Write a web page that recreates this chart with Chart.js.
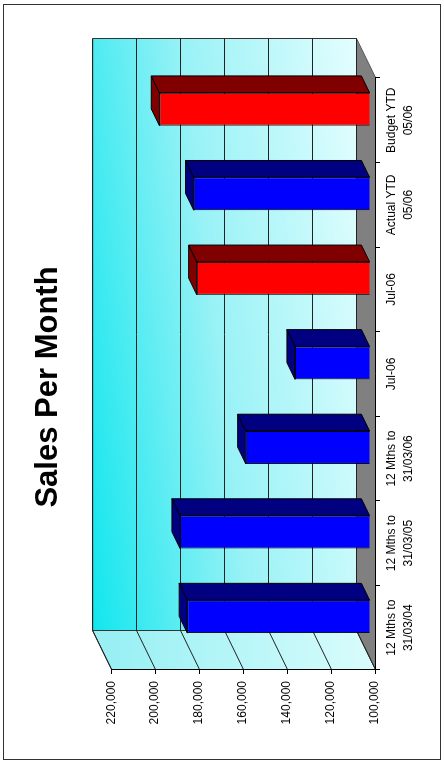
<!DOCTYPE html>
<html>
<head>
<meta charset="utf-8">
<script src="https://cdn.jsdelivr.net/npm/chart.js@4.4.0/dist/chart.umd.min.js"></script>
<style>
  html, body { margin: 0; padding: 0; background: #fff; }
  body { width: 444px; height: 764px; position: relative; overflow: hidden; }
  /* the chart is drawn upright and the whole box turned a quarter left */
  #wrap { position: absolute; left: -160px; top: 160px; width: 764px; height: 444px;
          transform: rotate(-90deg); transform-origin: 50% 50%; }
  #wrap canvas { display: block; }
  #frame { position: absolute; left: 3px; top: 4px; width: 436px; height: 754px;
           border: 1px solid #333; pointer-events: none; }
</style>
</head>
<body>
<div id="wrap"><canvas id="chart01" width="764" height="444"></canvas></div>
<div id="frame"></div>
<script>
var categories = [
  ['12 Mths to', '31/03/04'],
  ['12 Mths to', '31/03/05'],
  ['12 Mths to', '31/03/06'],
  'Jul-06',
  'Jul-06',
  ['Actual YTD', '05/06'],
  ['Budget YTD', '05/06']
];
var salesValues = [182900, 186200, 156300, 133900, 178600, 180000, 195600];
var seriesType  = ['Actual', 'Actual', 'Actual', 'Actual', 'Budget', 'Actual', 'Budget'];
var yTicks = { min: 100000, max: 220000, step: 20000 };

// colours of the two kinds of bar (front / top+side)
var faceColor = { Actual: '#0000ff', Budget: '#ff0000' };
var darkColor = { Actual: '#000080', Budget: '#800000' };

var SANS = "'Liberation Sans', Arial, sans-serif";

// 3D look: depth of the floor and where the bars sit in it
var DX = 39, DY = -19;
var BAR_FRONT = 0.285, BAR_DEPTH = 0.43;

function poly(ctx, pts, fill, stroke) {
  ctx.beginPath();
  ctx.moveTo(pts[0][0], pts[0][1]);
  for (var i = 1; i < pts.length; i++) ctx.lineTo(pts[i][0], pts[i][1]);
  ctx.closePath();
  if (fill) { ctx.fillStyle = fill; ctx.fill(); }
  if (stroke) { ctx.strokeStyle = stroke; ctx.lineWidth = 1; ctx.stroke(); }
}

var walls3d = {
  id: 'walls3d',
  beforeDraw: function(chart) {
    var ctx = chart.ctx, a = chart.chartArea, y = chart.scales.y;
    var L = a.left + 0.5, R = a.right + 0.5, T = a.top + 0.5, B = a.bottom + 0.5;
    ctx.save();
    // back wall, deep cyan at the top fading to nearly white at the floor
    var g = ctx.createLinearGradient(L + DX, T + DY, L + DX + 41, T + DY + 347);
    g.addColorStop(0, '#12e6ee');
    g.addColorStop(0.45, '#98f2f6');
    g.addColorStop(1, '#ecffff');
    poly(ctx, [[L + DX, T + DY], [R + DX, T + DY], [R + DX, B + DY], [L + DX, B + DY]], g, '#333');
    // side wall
    var g2 = ctx.createLinearGradient(L, T, L, B);
    g2.addColorStop(0, '#98f0f4');
    g2.addColorStop(1, '#dafcfc');
    poly(ctx, [[L, T], [L + DX, T + DY], [L + DX, B + DY], [L, B]], g2, '#333');
    // floor
    poly(ctx, [[L, B], [R, B], [R + DX, B + DY], [L + DX, B + DY]], '#808080', '#555');
    // grid lines on back and side walls
    ctx.strokeStyle = '#222';
    ctx.lineWidth = 1;
    y.ticks.forEach(function(t) {
      var py = Math.round(y.getPixelForValue(t.value)) + 0.5;
      ctx.beginPath();
      ctx.moveTo(L, py);
      ctx.lineTo(L + DX, py + DY);
      ctx.lineTo(R + DX, py + DY);
      ctx.stroke();
    });
    ctx.restore();
  },
  beforeDatasetsDraw: function(chart) {
    chart.ctx.save();
    chart.ctx.translate(BAR_FRONT * DX, BAR_FRONT * DY);
  },
  afterDatasetsDraw: function(chart) {
    var ctx = chart.ctx, bottom = chart.chartArea.bottom;
    var bdx = BAR_DEPTH * DX, bdy = BAR_DEPTH * DY;
    chart.getDatasetMeta(0).data.forEach(function(bar, i) {
      var p = bar.getProps(['x', 'y', 'base', 'width'], true);
      var l = p.x - p.width / 2, r = p.x + p.width / 2, t = p.y;
      var b = Math.min(p.base, bottom);   // axis does not start at zero
      var c = darkColor[seriesType[i]];
      poly(ctx, [[l, t], [r, t], [r + bdx, t + bdy], [l + bdx, t + bdy]], c, '#000');
      poly(ctx, [[r, t], [r + bdx, t + bdy], [r + bdx, b + bdy], [r, b]], c, '#000');
    });
    ctx.restore();
  }
};

new Chart(document.getElementById('chart01'), {
  type: 'bar',
  data: {
    labels: categories,
    datasets: [{
      label: 'Sales',
      data: salesValues,
      backgroundColor: seriesType.map(function(s) { return faceColor[s]; }),
      borderColor: '#000',
      borderWidth: 1,
      borderSkipped: false,
      barPercentage: 0.39,
      categoryPercentage: 1.0
    }]
  },
  options: {
    responsive: false,
    animation: false,
    layout: { padding: { left: 0, right: 10, top: 0, bottom: 0 } },
    plugins: {
      legend: { display: false },
      tooltip: { enabled: false },
      title: {
        display: true,
        text: 'Sales Per Month',
        color: '#000',
        font: { family: SANS, size: 31, weight: 'bold', lineHeight: 1.2 },
        padding: { top: 30, bottom: 44 }
      }
    },
    scales: {
      x: {
        offset: true,
        grid: { display: true, offset: true, drawOnChartArea: false, tickLength: 5, color: '#000' },
        border: { display: true, color: '#000' },
        ticks: { padding: 4, maxRotation: 0, autoSkip: false, color: '#000',
                 font: { family: SANS, size: 12, lineHeight: 1.35 } },
        afterFit: function(s) { s.height = 69; }
      },
      y: {
        min: yTicks.min,
        max: yTicks.max,
        grid: { drawOnChartArea: false, tickLength: 4, color: '#000' },
        border: { display: true, color: '#000' },
        ticks: {
          stepSize: yTicks.step,
          padding: 7,
          color: '#000',
          font: { family: SANS, size: 12 },
          callback: function(v) { return v.toLocaleString('en-US'); }
        },
        afterFit: function(s) { s.width = 94; }
      },
      y2: {
        position: 'right',
        grid: { display: false },
        border: { display: false },
        ticks: { display: false },
        afterFit: function(s) { s.width = 68; }
      }
    }
  },
  plugins: [walls3d]
});
</script>
</body>
</html>
